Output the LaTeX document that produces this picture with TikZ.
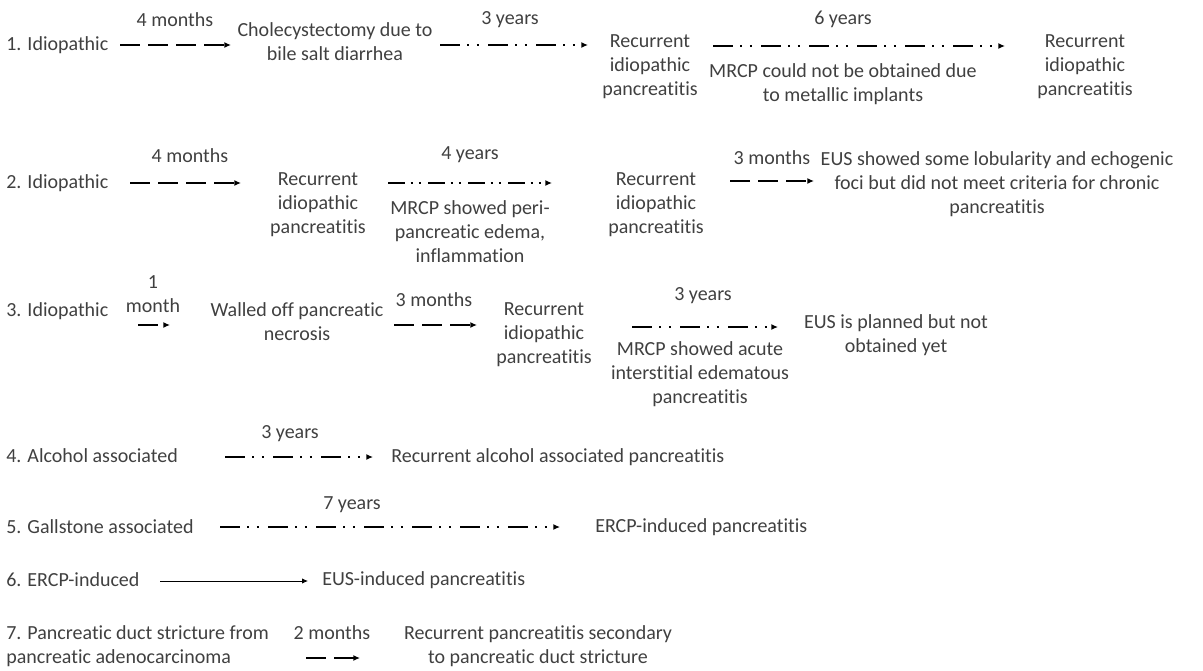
\documentclass[tikz,border=0pt]{standalone}
\usepackage{fontspec}
\setmainfont{Carlito}[Ligatures=NoCommon]
\usetikzlibrary{arrows.meta}

\begin{document}
\begin{tikzpicture}[
		x=0.75pt, y=-0.75pt,
		txt/.style={inner sep=0pt, align=center, text=black!75, font=\fontsize{15}{18}\selectfont},
		dasharrow/.style={line width=1.6pt, dash pattern=on 15pt off 6pt, -{Latex[length=5pt,width=4.5pt]}},
		dotarrow/.style={line width=1.6pt, dash pattern=on 15pt off 5.5pt on 1.6pt off 5.5pt on 1.6pt off 6.8pt, -{Latex[length=5pt,width=4.5pt]}},
		dotarrowshort/.style={line width=1.6pt, dash pattern=on 12.5pt off 4.5pt on 1.6pt off 4.5pt on 1.6pt off 5.3pt, -{Latex[length=5pt,width=4.5pt]}},
		thinarrow/.style={line width=0.6pt, -{Latex[length=4.5pt,width=4pt]}}
		]
		\useasboundingbox (0,0) rectangle (1203,671);
		% Case 1
		\node[txt, anchor=west] (c1a) at (6,45) {1. Idiopathic};
		\node[txt] (c1b) at (335,42) {Cholecystectomy due to\\bile salt diarrhea};
		\node[txt] (c1c) at (650,67) {Recurrent\\idiopathic\\pancreatitis};
		\node[txt] (c1d) at (1085,67) {Recurrent\\idiopathic\\pancreatitis};
		\node[txt] (c1t1) at (175,20) {4 months};
		\node[txt] (c1t2) at (510,20) {3 years};
		\node[txt] (c1t3) at (843,19) {6 years};
		\node[txt] (c1n3) at (843,84) {MRCP could not be obtained due\\to metallic implants};
		\coordinate (c1s1) at (120,45); \coordinate (c1e1) at (231,45);
		\coordinate (c1s2) at (440,45); \coordinate (c1e2) at (588,45);
		\coordinate (c1s3) at (713,46); \coordinate (c1e3) at (1005,46);
		\draw[dasharrow] (c1s1) -- (c1e1);
		\draw[dotarrow] (c1s2) -- (c1e2);
		\draw[dotarrow] (c1s3) -- (c1e3);
		% Case 2
		\node[txt, anchor=west] (c2a) at (6,183) {2. Idiopathic};
		\node[txt] (c2b) at (318,205) {Recurrent\\idiopathic\\pancreatitis};
		\node[txt] (c2n2) at (470,232) {MRCP showed peri-\\pancreatic edema,\\inflammation};
		\node[txt] (c2c) at (656,205) {Recurrent\\idiopathic\\pancreatitis};
		\node[txt] (c2d) at (997,184) {EUS showed some lobularity and echogenic\\foci but did not meet criteria for chronic\\pancreatitis};
		\node[txt] (c2t1) at (190,156) {4 months};
		\node[txt] (c2t2) at (470,155) {4 years};
		\node[txt] (c2t3) at (772,158) {3 months};
		\coordinate (c2s1) at (130,183); \coordinate (c2e1) at (241,183);
		\coordinate (c2s2) at (388,183); \coordinate (c2e2) at (552,183);
		\coordinate (c2s3) at (730,181); \coordinate (c2e3) at (814,181);
		\draw[dasharrow] (c2s1) -- (c2e1);
		\draw[dotarrowshort] (c2s2) -- (c2e2);
		\draw[dasharrow] (c2s3) -- (c2e3);
		% Case 3
		\node[txt, anchor=west] (c3a) at (6,311) {3. Idiopathic};
		\node[txt] (c3t1) at (153,294) {1\\month};
		\node[txt] (c3b) at (297,322) {Walled off pancreatic\\necrosis};
		\node[txt] (c3t2) at (434,300) {3 months};
		\node[txt] (c3c) at (544,335) {Recurrent\\idiopathic\\pancreatitis};
		\node[txt] (c3t3) at (703,296) {3 years};
		\node[txt] (c3n3) at (700,374) {MRCP showed acute\\interstitial edematous\\pancreatitis};
		\node[txt] (c3d) at (896,335) {EUS is planned but not\\obtained yet};
		\coordinate (c3s1) at (138,325); \coordinate (c3e1) at (170,325);
		\coordinate (c3s2) at (394,325); \coordinate (c3e2) at (477,325);
		\coordinate (c3s3) at (632,327); \coordinate (c3e3) at (778,327);
		\draw[dasharrow] (c3s1) -- (c3e1);
		\draw[dasharrow] (c3s2) -- (c3e2);
		\draw[dotarrow] (c3s3) -- (c3e3);
		% Case 4
		\node[txt, anchor=west] (c4a) at (6,456) {4. Alcohol associated};
		\node[txt] (c4t1) at (290,434) {3 years};
		\node[txt, anchor=west] (c4b) at (391,457) {Recurrent alcohol associated pancreatitis};
		\coordinate (c4s1) at (225,457); \coordinate (c4e1) at (373,457);
		\draw[dotarrow] (c4s1) -- (c4e1);
		% Case 5
		\node[txt, anchor=west] (c5a) at (6,527) {5. Gallstone associated};
		\node[txt] (c5t1) at (352,505) {7 years};
		\node[txt, anchor=west] (c5b) at (595,527) {ERCP-induced pancreatitis};
		\coordinate (c5s1) at (220,527); \coordinate (c5e1) at (560,527);
		\draw[dotarrow] (c5s1) -- (c5e1);
		% Case 6
		\node[txt, anchor=west] (c6a) at (6,580) {6. ERCP-induced};
		\node[txt, anchor=west] (c6b) at (322,580) {EUS-induced pancreatitis};
		\coordinate (c6s1) at (160,581); \coordinate (c6e1) at (308,581);
		\draw[thinarrow] (c6s1) -- (c6e1);
		% Case 7
		\node[txt, anchor=west, align=left] (c7a) at (6,646) {7. Pancreatic duct stricture from\\pancreatic adenocarcinoma};
		\node[txt] (c7t1) at (332,633) {2 months};
		\node[txt] (c7b) at (538,646) {Recurrent pancreatitis secondary\\to pancreatic duct stricture};
		\coordinate (c7s1) at (306,658); \coordinate (c7e1) at (360,658);
		\draw[dasharrow] (c7s1) -- (c7e1);
\end{tikzpicture}
\end{document}
